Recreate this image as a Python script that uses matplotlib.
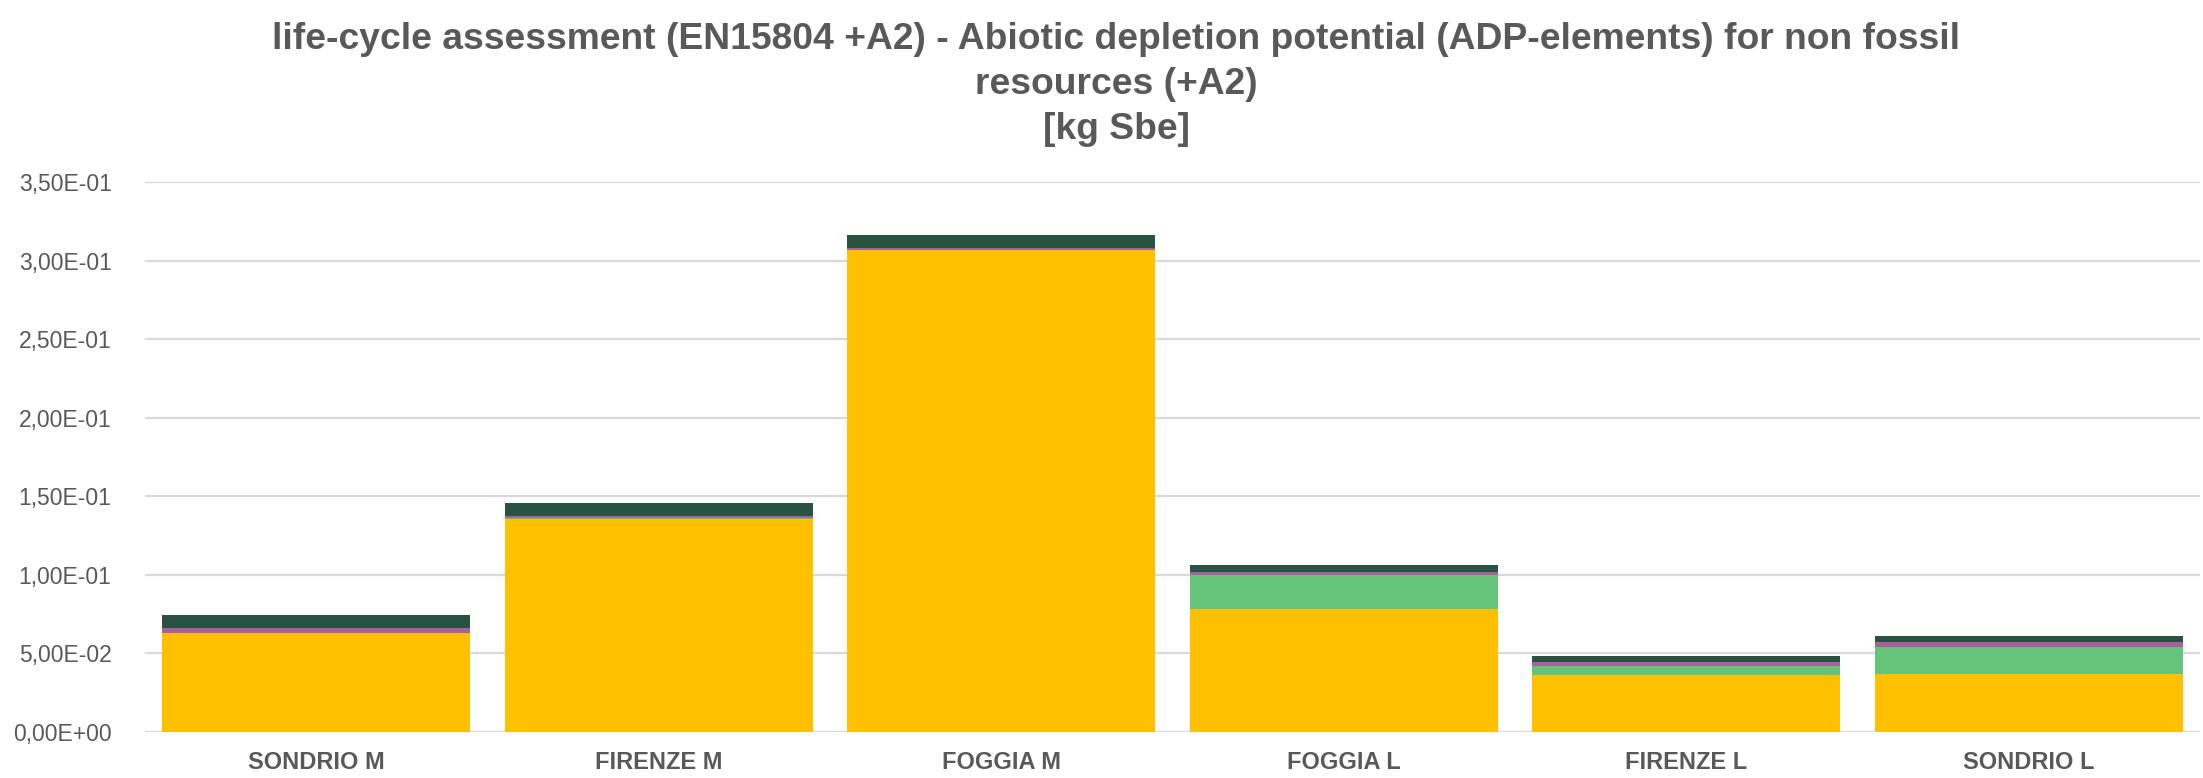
import numpy as np
import matplotlib
matplotlib.use("Agg")
import matplotlib.pyplot as plt

plt.rcParams["font.family"] = ["Liberation Sans", "DejaVu Sans"]

categories = ["SONDRIO M", "FIRENZE M", "FOGGIA M", "FOGGIA L", "FIRENZE L", "SONDRIO L"]

# stacked contributions [kg Sbe], bottom to top
serie_1 = [0.0630, 0.1356, 0.3066, 0.0781, 0.0363, 0.0369]
serie_2 = [0.0003, 0.0003, 0.0003, 0.0220, 0.0059, 0.0170]
serie_3 = [0.0028, 0.0016, 0.0012, 0.0017, 0.0022, 0.0032]
serie_4 = [0.0084, 0.0085, 0.0083, 0.0043, 0.0040, 0.0040]

yticks = [0.0, 0.05, 0.10, 0.15, 0.20, 0.25, 0.30, 0.35]
ytick_labels = ["0,00E+00", "5,00E-02", "1,00E-01", "1,50E-01",
                "2,00E-01", "2,50E-01", "3,00E-01", "3,50E-01"]

colors = ["#FFC000", "#66C47A", "#A8619C", "#2A5240"]
text_color = "#595959"

fig = plt.figure(figsize=(22.03, 7.78), dpi=100)
ax = fig.add_axes([0.0658, 0.0591, 0.9328, 0.7070])

x = np.arange(len(categories))
bottom = np.zeros(len(categories))
for values, color in zip([serie_1, serie_2, serie_3, serie_4], colors):
    ax.bar(x, values, width=0.9, bottom=bottom, color=color, linewidth=0, zorder=3)
    bottom += np.array(values)

ax.set_xlim(-0.5, len(categories) - 0.5)
ax.set_ylim(0, 0.35)
ax.set_yticks(yticks)
ax.set_yticklabels(ytick_labels, fontsize=16.5, color=text_color)
ax.set_xticks(x)
ax.set_xticklabels(categories, fontsize=17, fontweight="bold", color=text_color)
ax.tick_params(axis="both", length=0)
ax.tick_params(axis="y", pad=24)
ax.tick_params(axis="x", pad=14)

ax.grid(axis="y", color="#D9D9D9", linewidth=1.6, zorder=0)
for side in ["top", "right", "left", "bottom"]:
    ax.spines[side].set_visible(False)

fig.text(0.5066, 0.972,
         "life-cycle assessment (EN15804 +A2) - Abiotic depletion potential (ADP-elements) for non fossil\n"
         "resources (+A2)\n[kg Sbe]",
         ha="center", va="top", fontsize=26.8, fontweight="bold", color=text_color,
         linespacing=1.38)

fig.savefig("out.png", dpi=100)
plt.close(fig)
